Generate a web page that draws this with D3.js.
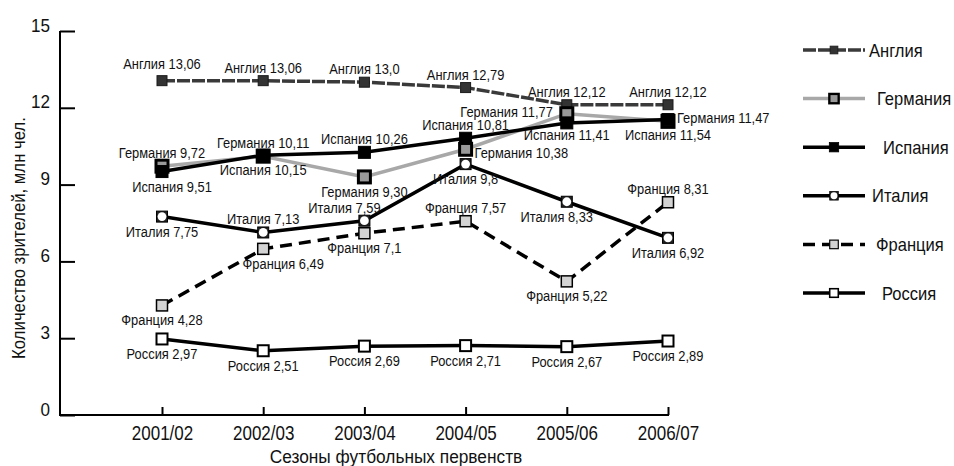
<!DOCTYPE html>
<html>
<head>
<meta charset="utf-8">
<script src="https://cdn.jsdelivr.net/npm/d3@7"></script>
<style>
  body { margin: 0; background: #fff; }
  svg text { font-family: "Liberation Sans", Arial, sans-serif; fill: #111; }
</style>
</head>
<body>
<svg width="954" height="466"></svg>
<script>
// seasons + attendance (mln spectators)
const seasons = ["2001/02", "2002/03", "2003/04", "2004/05", "2005/06", "2006/07"];
const countries = ["Англия", "Германия", "Испания", "Италия", "Франция", "Россия"];

const england = [13.06, 13.06, 13.0, 12.79, 12.12, 12.12];
const germany = [9.72, 10.11, 9.30, 10.38, 11.77, 11.47];
const spain   = [9.51, 10.15, 10.26, 10.81, 11.41, 11.54];
const italy   = [7.75, 7.13, 7.59, 9.8, 8.33, 6.92];
const france  = [4.28, 6.49, 7.1, 7.57, 5.22, 8.31];
const russia  = [2.97, 2.51, 2.69, 2.71, 2.67, 2.89];

// label text as printed on the chart
const englandLbl = ["13,06", "13,06", "13,0", "12,79", "12,12", "12,12"];
const germanyLbl = ["9,72", "10,11", "9,30", "10,38", "11,77", "11,47"];
const spainLbl   = ["9,51", "10,15", "10,26", "10,81", "11,41", "11,54"];
const italyLbl   = ["7,75", "7,13", "7,59", "9,8", "8,33", "6,92"];
const franceLbl  = ["4,28", "6,49", "7,1", "7,57", "5,22", "8,31"];
const russiaLbl  = ["2,97", "2,51", "2,69", "2,71", "2,67", "2,89"];

const yTicks = [0, 3, 6, 9, 12, 15];

// where each label sits: a = above, b = below, r = right, l = left
const place = {
  "Англия":   ["a", "a", "a", "a", "a", "a"],
  "Германия": ["a", "a", "b", "r", "l", "r"],
  "Испания":  ["b", "b", "a", "a", "b", "b"],
  "Италия":   ["b", "a", "a", "b", "b", "b"],
  "Франция":  ["b", "b", "b", "a", "b", "a"],
  "Россия":   ["b", "b", "b", "b", "b", "b"]
};
// a few labels are pushed off their default spot in the original [dx, dy]
const nudge = {
  "Италия 2": [-20, 0], "Франция 1": [20, 0], "Италия 4": [-10, 0], "Испания 0": [10, 0],
  "Германия 3": [0, 4], "Германия 5": [0, -3], "Англия 0": [0, -4], "Испания 4": [0, -3]
};

const styles = {
  "Англия":   {line: "#3a3a3a", w: 3.5, dash: "13,2", size: 10, fill: "#333", stroke: "#1a1a1a", sw: 1},
  "Германия": {line: "#a8a8a8", w: 3.5, dash: null, size: 12, fill: "#999", stroke: "#000", sw: 3},
  "Испания":  {line: "#000", w: 3.5, dash: null, size: 12, fill: "#000", stroke: "#000", sw: 1},
  "Италия":   {line: "#000", w: 3.5, dash: null, size: 11, fill: "#222", stroke: "#000", sw: 1, dot: true},
  "Франция":  {line: "#000", w: 3.5, dash: "12,7", size: 11, fill: "#d3d3d3", stroke: "#000", sw: 1.5},
  "Россия":   {line: "#000", w: 3.5, dash: null, size: 11, fill: "#fff", stroke: "#000", sw: 2}
};

const series = [
  {name: "Англия", values: england, labels: englandLbl},
  {name: "Германия", values: germany, labels: germanyLbl},
  {name: "Испания", values: spain, labels: spainLbl},
  {name: "Италия", values: italy, labels: italyLbl},
  {name: "Франция", values: france, labels: franceLbl},
  {name: "Россия", values: russia, labels: russiaLbl}
];

const svg = d3.select("svg");
const axisLeftX = 60;
const x = d3.scalePoint().domain(seasons).range([162, 668]);
const y = d3.scaleLinear().domain([0, 15]).range([415, 31]);

// no narrow font installed -> squeeze text horizontally instead
function squeeze(sel, sx) {
  sel.each(function() {
    const t = d3.select(this);
    const tx = +t.attr("x") || 0, ty = +t.attr("y") || 0;
    t.attr("x", 0).attr("y", 0)
      .attr("transform", `translate(${tx},${ty}) scale(${sx},1)`);
  });
}

// axes
const yAxisG = svg.append("g").attr("transform", `translate(${axisLeftX},0)`);
d3.axisLeft(y).tickValues(yTicks).tickSize(-15).tickPadding(10)(yAxisG);
yAxisG.selectAll("line").attr("stroke", "#000").attr("stroke-width", 2);
yAxisG.select(".domain").remove();
yAxisG.selectAll("text")
  .attr("font-size", 18)
  .attr("font-family", null)
  .attr("fill", null)
  .attr("dy", 0)
  .call(squeeze, 0.95);
yAxisG.append("line")
  .attr("x1", 0).attr("x2", 0)
  .attr("y1", y(15)).attr("y2", y(0) + 1)
  .attr("stroke", "#000").attr("stroke-width", 2);

const xAxisG = svg.append("g").attr("transform", `translate(0,${y(0)})`);
d3.axisBottom(x).tickSizeInner(-8).tickSizeOuter(0).tickPadding(11)(xAxisG);
xAxisG.select(".domain").remove();
xAxisG.selectAll("line").attr("stroke", "#000").attr("stroke-width", 2);
xAxisG.selectAll("text")
  .attr("font-size", 20)
  .attr("font-family", null)
  .attr("fill", null)
  .call(squeeze, 0.85);
xAxisG.append("line")
  .attr("x1", axisLeftX - 1).attr("x2", x("2006/07") + 1)
  .attr("stroke", "#000").attr("stroke-width", 2);

svg.append("text")
  .text("Сезоны футбольных первенств")
  .attr("x", 396).attr("y", 463)
  .attr("text-anchor", "middle")
  .attr("font-size", 19)
  .call(squeeze, 0.91);

svg.append("text")
  .text("Количество зрителей, млн чел.")
  .attr("transform", "translate(25,238) rotate(-90) scale(0.93,1)")
  .attr("text-anchor", "middle")
  .attr("font-size", 18);

// lines
const line = d3.line()
  .x((d, i) => x(seasons[i]))
  .y(d => y(d));

series.forEach(s => {
  const st = styles[s.name];
  svg.append("path")
    .datum(s.values)
    .attr("d", line)
    .attr("fill", "none")
    .attr("stroke", st.line)
    .attr("stroke-width", st.w)
    .attr("stroke-dasharray", st.dash);
});

function drawMarker(g, cx, cy, st, k) {
  const sz = st.size * k;
  g.append("rect")
    .attr("x", cx - sz / 2).attr("y", cy - sz / 2)
    .attr("width", sz).attr("height", sz)
    .attr("fill", st.fill)
    .attr("stroke", st.stroke)
    .attr("stroke-width", st.sw * k);
  if (st.dot) {
    g.append("circle")
      .attr("cx", cx).attr("cy", cy)
      .attr("r", sz * 0.4)
      .attr("fill", "#fff");
  }
}

// markers
series.forEach(s => {
  const st = styles[s.name];
  const g = svg.append("g");
  s.values.forEach((v, i) => drawMarker(g, x(seasons[i]), y(v), st, 1));
});

// data labels
series.forEach(s => {
  s.values.forEach((v, i) => {
    const p = place[s.name][i];
    const [dx, dy] = nudge[s.name + " " + i] || [0, 0];
    const px = x(seasons[i]) + dx, py = y(v) + dy;
    const t = svg.append("text")
      .text(s.name + " " + s.labels[i])
      .attr("font-size", 14);
    if (p === "a") t.attr("x", px).attr("y", py - 8).attr("text-anchor", "middle");
    if (p === "b") t.attr("x", px).attr("y", py + 20).attr("text-anchor", "middle");
    if (p === "r") t.attr("x", px + 9).attr("y", py + 5).attr("text-anchor", "start");
    if (p === "l") t.attr("x", px - 14).attr("y", py + 3).attr("text-anchor", "end");
    t.call(squeeze, 0.92);
  });
});

// legend
const legY0 = 50, legStep = 48.6;
const legTextX = [869, 877, 883, 872, 876, 882];
const legend = svg.append("g");
series.forEach((s, i) => {
  const st = styles[s.name];
  const ly = legY0 + i * legStep;
  legend.append("line")
    .attr("x1", 803).attr("x2", 865)
    .attr("y1", ly).attr("y2", ly)
    .attr("stroke", st.line)
    .attr("stroke-width", st.w)
    .attr("stroke-dasharray", st.dash);
  drawMarker(legend, 834, ly, st, 0.78);
  legend.append("text")
    .text(s.name)
    .attr("x", legTextX[i]).attr("y", ly + 6.5)
    .attr("font-size", 18)
    .call(squeeze, 0.92);
});
</script>
</body>
</html>
